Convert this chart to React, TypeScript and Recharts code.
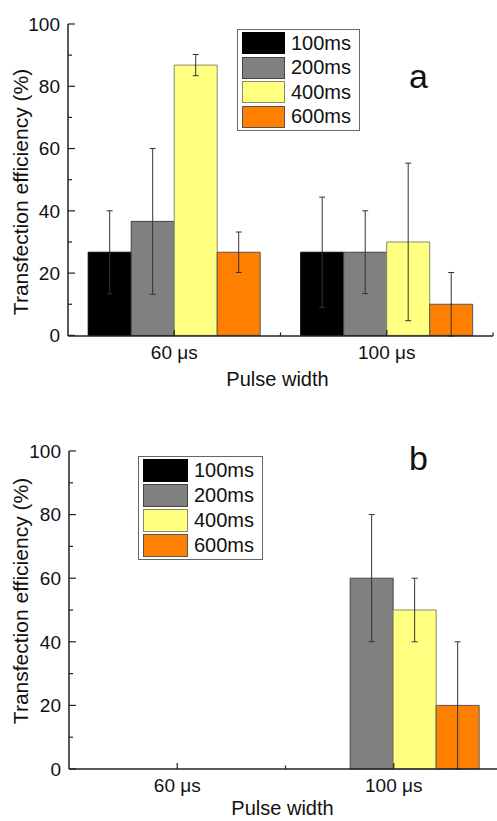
import { BarChart, Bar, XAxis, YAxis, ErrorBar, Legend } from 'recharts'

const categories = ['60 μs', '100 μs']
const seriesNames = ['100ms', '200ms', '400ms', '600ms']
const seriesColors = ['#000000', '#808080', '#ffff80', '#ff8000']
const seriesBorders = ['#000000', '#444444', '#8a8a6a', '#555555']
const yTicks = [0, 10, 20, 30, 40, 50, 60, 70, 80, 90, 100]

// panel a
const a100 = [26.7, 26.7]
const a200 = [36.6, 26.7]
const a400 = [86.8, 30.0]
const a600 = [26.7, 10.0]
const a100Err = [13.3, 17.7]
const a200Err = [23.4, 13.3]
const a400Err = [3.4, 25.3]
const a600Err = [6.5, 10.2]

// panel b (nothing measured at 60 us, no 100ms bar)
const b100 = [null, null]
const b200 = [null, 60]
const b400 = [null, 50]
const b600 = [null, 20]
const b100Err = [null, null]
const b200Err = [null, 20]
const b400Err = [null, 10]
const b600Err = [null, 20]

const font = 'Arial, "Liberation Sans", sans-serif'
const axisColor = '#222'

type Num = number | null

function buildData(values: Num[][], errors: Num[][]) {
    return categories.map((name, i) => {
        const row: Record<string, string | Num> = { name }
        seriesNames.forEach((s, k) => {
            row[s] = values[k][i]
            row[s + 'Err'] = errors[k][i]
        })
        return row
    })
}

const dataA = buildData([a100, a200, a400, a600], [a100Err, a200Err, a400Err, a600Err])
const dataB = buildData([b100, b200, b400, b600], [b100Err, b200Err, b400Err, b600Err])

function XTick(props: any) {
    const { x, y, payload } = props
    const half = payload?.offset ?? 0
    return (
        <g>
            <line x1={x} y1={y} x2={x} y2={y - 6} stroke={axisColor} strokeWidth={1.2} />
            {half > 0 && (
                <line x1={x + half} y1={y} x2={x + half} y2={y - 3.5} stroke={axisColor} strokeWidth={1.2} />
            )}
            <text x={x} y={y + 23} textAnchor="middle" fontSize={19} fontFamily={font} fill="#111">
                {payload.value}
            </text>
        </g>
    )
}

function YTick(props: any) {
    const { x, y, payload } = props
    const major = payload.value % 20 === 0
    return (
        <g>
            <line x1={x} y1={y} x2={x + (major ? 7 : 4)} y2={y} stroke={axisColor} strokeWidth={1.2} />
            {major && (
                <text x={x - 8} y={y} dy="0.36em" textAnchor="end" fontSize={19} fontFamily={font} fill="#111">
                    {payload.value}
                </text>
            )}
        </g>
    )
}

function YTitle(props: any) {
    const { center } = props
    return (
        <text
            x={28}
            y={center}
            transform={`rotate(-90, 28, ${center})`}
            textAnchor="middle"
            fontSize={21}
            fontFamily={font}
            fill="#111"
        >
            Transfection efficiency (%)
        </text>
    )
}

function XTitle(props: any) {
    const { viewBox, drop } = props
    const cx = viewBox.x + viewBox.width / 2 - 3
    return (
        <text x={cx} y={viewBox.y + drop} textAnchor="middle" fontSize={20} fontFamily={font} fill="#111">
            Pulse width
        </text>
    )
}

function LegendBox({ swatchW, swatchH, pitch }: { swatchW: number; swatchH: number; pitch: number }) {
    return (
        <div
            style={{
                border: '1px solid #666',
                background: '#fff',
                padding: '1px 8px 1px 4px',
                fontFamily: font,
                fontSize: 20,
            }}
        >
            {seriesNames.map((s, k) => (
                <div key={s} style={{ display: 'flex', alignItems: 'center', height: pitch }}>
                    <span
                        style={{
                            display: 'inline-block',
                            width: swatchW,
                            height: swatchH,
                            background: seriesColors[k],
                            border: `1px solid ${seriesBorders[k]}`,
                            boxSizing: 'border-box',
                            marginRight: 6,
                        }}
                    />
                    <span style={{ color: '#111' }}>{s}</span>
                </div>
            ))}
        </div>
    )
}

interface PanelProps {
    data: Record<string, string | Num>[]
    width: number
    height: number
    margin: { top: number; right: number; bottom: number; left: number }
    yAxisWidth: number
    gap: string
    titleCenter: number
    titleDrop: number
    legendPos: { top: number; left: number }
    legendSize: { swatchW: number; swatchH: number; pitch: number }
}

function Panel({ data, width, height, margin, yAxisWidth, gap, titleCenter, titleDrop, legendPos, legendSize }: PanelProps) {
    return (
        <BarChart width={width} height={height} data={data} margin={margin} barGap={0} barCategoryGap={gap}>
            <XAxis
                dataKey="name"
                height={40}
                axisLine={{ stroke: axisColor, strokeWidth: 1.5 }}
                tickLine={false}
                tickSize={0}
                tickMargin={0}
                tick={<XTick />}
                interval={0}
                label={<XTitle drop={titleDrop} />}
            />
            <YAxis
                type="number"
                domain={[0, 100]}
                ticks={yTicks}
                interval={0}
                width={yAxisWidth}
                axisLine={{ stroke: axisColor, strokeWidth: 1.5 }}
                tickLine={false}
                tickSize={0}
                tickMargin={0}
                tick={<YTick />}
                label={<YTitle center={titleCenter} />}
            />
            <Legend
                layout="horizontal"
                verticalAlign="middle"
                align="center"
                wrapperStyle={{ top: legendPos.top, left: legendPos.left, width: 'auto' }}
                content={() => <LegendBox {...legendSize} />}
            />
            {seriesNames.map((s, k) => (
                <Bar
                    key={s}
                    dataKey={s}
                    fill={seriesColors[k]}
                    stroke={seriesBorders[k]}
                    strokeWidth={1}
                    isAnimationActive={false}
                >
                    <ErrorBar dataKey={s + 'Err'} width={3} stroke="#333" strokeWidth={1} />
                </Bar>
            ))}
        </BarChart>
    )
}

export default function App() {
    return (
        <div
            style={{
                position: 'absolute',
                top: 0,
                left: 0,
                width: 497,
                height: 821,
                overflow: 'hidden',
                background: '#fff',
            }}
        >
            <div style={{ position: 'absolute', top: 0, left: 0 }}>
                <Panel
                    data={dataA}
                    width={497}
                    height={400}
                    margin={{ top: 24, right: 4, bottom: 24, left: 0 }}
                    yAxisWidth={68}
                    gap="9.5%"
                    titleCenter={192}
                    titleDrop={50}
                    legendPos={{ top: 29, left: 237 }}
                    legendSize={{ swatchW: 43, swatchH: 22, pitch: 24.5 }}
                />
            </div>
            <div style={{ position: 'absolute', top: 420, left: 0 }}>
                <Panel
                    data={dataB}
                    width={506}
                    height={401}
                    margin={{ top: 31, right: 4, bottom: 12, left: 0 }}
                    yAxisWidth={69}
                    gap="10%"
                    titleCenter={181}
                    titleDrop={46}
                    legendPos={{ top: 36, left: 138 }}
                    legendSize={{ swatchW: 45, swatchH: 23.5, pitch: 25 }}
                />
            </div>
            <div style={{ position: 'absolute', top: 59, left: 409, fontSize: 34, lineHeight: '34px', fontFamily: font, color: '#111' }}>
                a
            </div>
            <div style={{ position: 'absolute', top: 441, left: 409, fontSize: 34, lineHeight: '34px', fontFamily: font, color: '#111' }}>
                b
            </div>
        </div>
    )
}
